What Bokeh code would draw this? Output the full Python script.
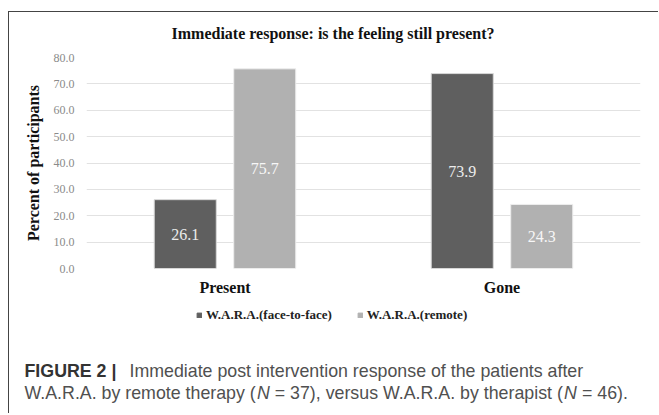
from bokeh.plotting import figure
from bokeh.models import (ColumnDataSource, Range1d, FactorRange, FixedTicker,
                          PrintfTickFormatter, LabelSet, Label, Legend, LegendItem)
from bokeh.transform import dodge
from bokeh.embed import file_html
from bokeh.resources import INLINE

# ---- data ----
categories = ["Present", "Gone"]
face_to_face = [26.1, 73.9]
remote = [75.7, 24.3]
series_names = ["W.A.R.A.(face-to-face)", "W.A.R.A.(remote)"]
y_ticks = [0, 10, 20, 30, 40, 50, 60, 70, 80]
title_text = "Immediate response: is the feeling still present?"
y_label = "Percent of participants"
caption_bold = "FIGURE 2 |"
caption_line1 = "Immediate post intervention response of the patients after"
caption_line2 = ["W.A.R.A. by remote therapy (", "N", "= 37), versus W.A.R.A. by therapist (", "N", "= 46)."]

DARK = "#5f5f5f"
LIGHT = "#b1b1b1"
SERIF = "Liberation Serif"
SANS = "Liberation Sans"
W = 650
BORDER = "1px solid #444444"


def holder(h, styles):
    f = figure(width=W, height=h, x_range=Range1d(0, W), y_range=Range1d(0, h),
               output_backend="svg", toolbar_location=None, title=None,
               x_axis_location=None, y_axis_location=None,
               min_border_left=0, min_border_right=0, min_border_top=0, min_border_bottom=0)
    f.grid.visible = False
    f.outline_line_color = None
    f.background_fill_color = "white"
    f.border_fill_color = "white"
    f.styles = styles
    return f


# ---- title strip (page y 12..45) ----
TH = 33
top = holder(TH, {"margin-left": "8px", "margin-top": "11px",
                  "border-left": BORDER, "border-top": BORDER})
top.add_layout(Label(x=323.5, y=TH - 21, text=title_text, text_align="center",
                     text_baseline="middle", text_font=SERIF, text_font_size="16px",
                     text_font_style="bold", text_color="#111111"))

# ---- chart (page y 45..300) ----
src = ColumnDataSource(dict(
    cat=categories,
    f2f=face_to_face,
    rem=remote,
    f2f_mid=[v / 2 for v in face_to_face],
    rem_mid=[v / 2 for v in remote],
    f2f_txt=["%.1f" % v for v in face_to_face],
    rem_txt=["%.1f" % v for v in remote],
))

p = figure(width=W, height=255, x_range=FactorRange(factors=categories),
           y_range=Range1d(0, 80), output_backend="svg", toolbar_location=None,
           title=None, min_border_left=77, min_border_right=19,
           min_border_top=13, min_border_bottom=31)
p.styles = {"margin-left": "8px", "border-left": BORDER}
p.outline_line_color = None
p.background_fill_color = "white"
p.border_fill_color = "white"

bw = 0.224
off = 0.1435
p.vbar(x=dodge("cat", -off, range=p.x_range), top="f2f", width=bw, source=src,
       fill_color=DARK, line_color="#d8d8d8", line_width=1)
p.vbar(x=dodge("cat", off, range=p.x_range), top="rem", width=bw, source=src,
       fill_color=LIGHT, line_color="#eeeeee", line_width=1)

p.add_layout(LabelSet(x=dodge("cat", -off, range=p.x_range), y="f2f_mid", text="f2f_txt",
                      source=src, text_align="center", text_baseline="middle",
                      text_font=SERIF, text_font_size="16px", text_color="#ececec"))
p.add_layout(LabelSet(x=dodge("cat", off, range=p.x_range), y="rem_mid", text="rem_txt",
                      source=src, text_align="center", text_baseline="middle",
                      text_font=SERIF, text_font_size="16px", text_color="#f7f7f7"))

p.xgrid.grid_line_color = None
p.ygrid.grid_line_color = "#e2e2e2"
p.ygrid.grid_line_width = 1
p.yaxis.ticker = FixedTicker(ticks=y_ticks)
p.yaxis.formatter = PrintfTickFormatter(format="%.1f")
p.yaxis.axis_line_color = None
p.yaxis.major_tick_line_color = None
p.yaxis.minor_tick_line_color = None
p.yaxis.major_label_text_font = SERIF
p.yaxis.major_label_text_font_size = "12px"
p.yaxis.major_label_text_color = "#8a8a8a"
p.yaxis.major_label_standoff = 6
p.yaxis.axis_label = y_label
p.yaxis.axis_label_text_font = SERIF
p.yaxis.axis_label_text_font_size = "16px"
p.yaxis.axis_label_text_font_style = "bold"
p.yaxis.axis_label_text_color = "#111111"
p.yaxis.axis_label_standoff = 9

p.xaxis.axis_line_color = None
p.xaxis.major_tick_line_color = None
p.xaxis.minor_tick_line_color = None
p.xaxis.major_label_text_font = SERIF
p.xaxis.major_label_text_font_size = "16px"
p.xaxis.major_label_text_font_style = "bold"
p.xaxis.major_label_text_color = "#111111"
p.xaxis.major_label_standoff = 4

# ---- legend + caption strip (page y 300..414) ----
BH = 114
bot = holder(BH, {"margin-left": "8px", "border-left": BORDER})
# legend keys only (NaN: nothing is drawn in the strip itself)
nan = float("nan")
k1 = bot.vbar(x=[nan], top=[nan], width=1, fill_color=DARK, line_color=DARK)
k2 = bot.vbar(x=[nan], top=[nan], width=1, fill_color=LIGHT, line_color=LIGHT)
legend = Legend(items=[LegendItem(label=series_names[0], renderers=[k1]),
                       LegendItem(label=series_names[1], renderers=[k2])],
                location=(187, BH - 16 - 7.5), orientation="horizontal",
                glyph_width=6, glyph_height=6, label_standoff=4, spacing=25,
                padding=0, margin=0, label_height=15,
                border_line_color=None, background_fill_alpha=0,
                label_text_font=SERIF, label_text_font_size="13px",
                label_text_font_style="bold", label_text_color="#222222")
bot.add_layout(legend, "center")

fs = 17.8
cap_color = "#505050"


def cap(txt, cx, cy, style="normal", color=cap_color):
    bot.add_layout(Label(x=cx, y=BH - cy, text=txt, text_align="left",
                         text_baseline="middle", text_font=SANS,
                         text_font_size="%.1fpx" % fs, text_font_style=style,
                         text_color=color))


cap(caption_bold, 15, 71, "bold", "#333333")
cap(caption_line1, 120, 71)
x0 = 15
xN1 = x0 + 13.060 * fs
x3 = xN1 + 1.000 * fs
xN2 = xN1 + 17.256 * fs
x5 = xN2 + 1.000 * fs
cap(caption_line2[0], x0, 93)
cap(caption_line2[1], xN1, 93, "italic")
cap(caption_line2[2], x3, 93)
cap(caption_line2[3], xN2, 93, "italic")
cap(caption_line2[4], x5, 93)

open("out.html", "w").write(file_html([top, p, bot], INLINE))
